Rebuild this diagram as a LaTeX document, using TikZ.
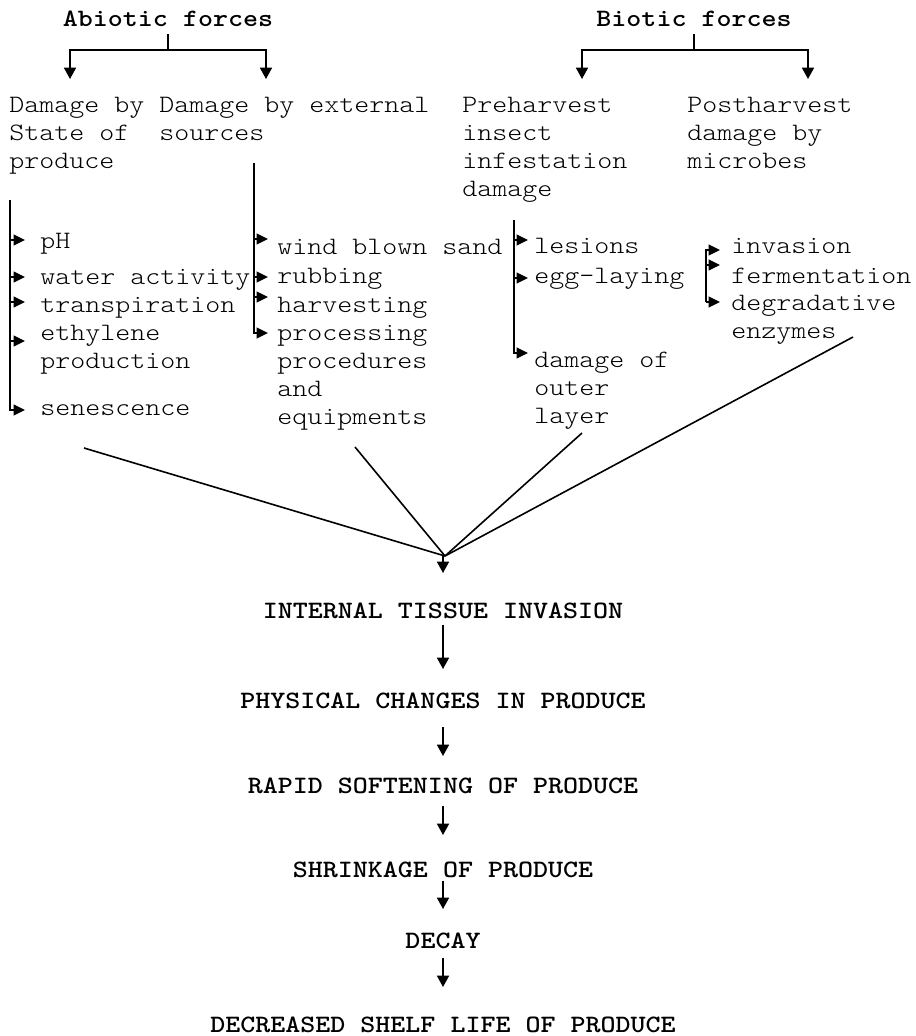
\documentclass[tikz,border=0pt]{standalone}
\usepackage{graphicx}
\usetikzlibrary{arrows.meta}
\newcommand\sx[1]{\scalebox{1.143}[1]{#1}}
\begin{document}
\begin{tikzpicture}[x=0.75pt,y=-0.75pt,
  txt/.style={font=\ttfamily\fontseries{l}\fontsize{18.75}{21}\selectfont, inner sep=0pt, anchor=base west},
  ttl/.style={font=\ttfamily\bfseries\fontsize{18.75}{21}\selectfont, inner sep=0pt, anchor=base},
  ln/.style={line width=1.2pt},
  arr/.style={ln,-{Triangle[length=8.5pt,width=9pt]}},
  sarr/.style={ln,-{Triangle[length=8.5pt,width=8pt]}}]
\useasboundingbox (0,0) rectangle (916,1036);

% titles
\node[ttl] (abio) at (168,26) {\sx{Abiotic forces}};
\node[ttl] (bio) at (694,26) {\sx{Biotic forces}};

% second level
\node[txt] (s1) at (9,112) {\sx{Damage by}};
\node[txt] (s2) at (9,140) {\sx{State of}};
\node[txt] (s3) at (9,168) {\sx{produce}};
\node[txt] (e1) at (159,112) {\sx{Damage by external}};
\node[txt] (e2) at (159,140) {\sx{sources}};
\node[txt] (p1) at (462,112) {\sx{Preharvest}};
\node[txt] (p2) at (462,140) {\sx{insect}};
\node[txt] (p3) at (462,168) {\sx{infestation}};
\node[txt] (p4) at (462,196) {\sx{damage}};
\node[txt] (q1) at (687,112) {\sx{Postharvest}};
\node[txt] (q2) at (687,140) {\sx{damage by}};
\node[txt] (q3) at (687,168) {\sx{microbes}};

% title brackets
\coordinate (aj) at (168,50);
\coordinate (bj) at (694,50);
\coordinate (at1) at (70,79);
\coordinate (at2) at (266,79);
\coordinate (bt1) at (582,79);
\coordinate (bt2) at (808,79);
\draw[ln] (168,34) -- (aj);
\draw[arr] (aj) -| (at1);
\draw[arr] (aj) -| (at2);
\draw[ln] (694,34) -- (bj);
\draw[arr] (bj) -| (bt1);
\draw[arr] (bj) -| (bt2);

% column 1 items
\node[txt] (c1a) at (40,248) {\sx{pH}};
\node[txt] (c1b) at (40,284) {\sx{water activity}};
\node[txt] (c1c) at (40,312) {\sx{transpiration}};
\node[txt] (c1d) at (40,340) {\sx{ethylene}};
\node[txt] (c1e) at (40,368) {\sx{production}};
\node[txt] (c1f) at (40,415) {\sx{senescence}};
\coordinate (l1t) at (10,200);
\draw[sarr] (l1t) |- (25,410);
\draw[sarr] (10,240) -- (25,240);
\draw[sarr] (10,277) -- (25,277);
\draw[sarr] (10,302) -- (25,302);
\draw[sarr] (10,341) -- (25,341);

% column 2 items
\node[txt] (c2a) at (277,254) {\sx{wind blown sand}};
\node[txt] (c2b) at (277,283) {\sx{rubbing}};
\node[txt] (c2c) at (277,312) {\sx{harvesting}};
\node[txt] (c2d) at (277,340) {\sx{processing}};
\node[txt] (c2e) at (277,368) {\sx{procedures}};
\node[txt] (c2f) at (277,396) {\sx{and}};
\node[txt] (c2g) at (277,424) {\sx{equipments}};
\coordinate (l2t) at (254,163);
\draw[sarr] (l2t) |- (268,333);
\draw[sarr] (254,239) -- (268,239);
\draw[sarr] (254,277) -- (268,277);
\draw[sarr] (254,297) -- (268,297);

% column 3 items
\node[txt] (c3a) at (534,253) {\sx{lesions}};
\node[txt] (c3b) at (534,283) {\sx{egg-laying}};
\node[txt] (c3c) at (534,367) {\sx{damage of}};
\node[txt] (c3d) at (534,395) {\sx{outer}};
\node[txt] (c3e) at (534,423) {\sx{layer}};
\coordinate (l3t) at (514,220);
\draw[sarr] (l3t) |- (528,353);
\draw[sarr] (514,240) -- (528,240);
\draw[sarr] (514,278) -- (528,278);

% column 4 items
\node[txt] (c4a) at (731,253) {\sx{invasion}};
\node[txt] (c4b) at (731,283) {\sx{fermentation}};
\node[txt] (c4c) at (731,310) {\sx{degradative}};
\node[txt] (c4d) at (731,338) {\sx{enzymes}};
\coordinate (l4b) at (706,302);
\draw[sarr] (l4b) |- (720,250);
\draw[sarr] (706,265) -- (720,265);
\draw[sarr] (l4b) -- (720,302);

% convergence
\coordinate (m) at (445,556);
\coordinate (k1) at (84,448);
\coordinate (k2) at (355,447);
\coordinate (k3) at (582,433);
\coordinate (k4) at (853,337);
\draw[ln] (k1) -- (m);
\draw[ln] (k2) -- (m);
\draw[ln] (k3) -- (m);
\draw[ln] (k4) -- (m);
\draw[arr] (443,556) -- (443,573);

% flow
\node[ttl] (f1) at (443,618) {\sx{INTERNAL TISSUE INVASION}};
\node[ttl] (f2) at (443,708) {\sx{PHYSICAL CHANGES IN PRODUCE}};
\node[ttl] (f3) at (443,793) {\sx{RAPID SOFTENING OF PRODUCE}};
\node[ttl] (f4) at (443,877) {\sx{SHRINKAGE OF PRODUCE}};
\node[ttl] (f5) at (443,948) {\sx{DECAY}};
\node[ttl] (f6) at (443,1032) {\sx{DECREASED SHELF LIFE OF PRODUCE}};
\draw[arr] (443,625) -- (443,669);
\draw[arr] (443,727) -- (443,756);
\draw[arr] (443,806) -- (443,835);
\draw[arr] (443,881) -- (443,909);
\draw[arr] (443,958) -- (443,987);
\end{tikzpicture}
\end{document}
